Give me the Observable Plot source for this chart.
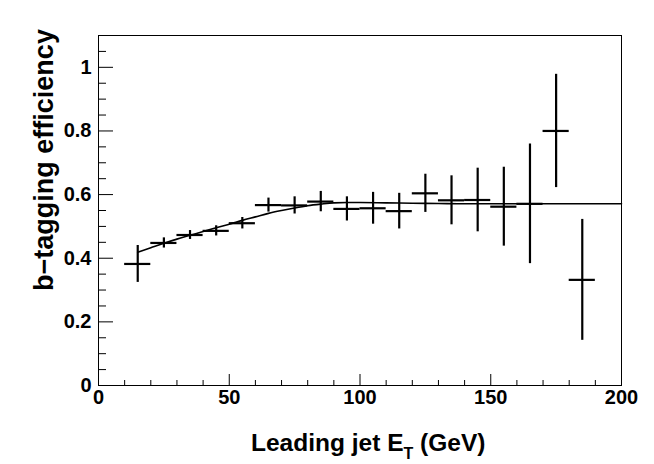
<!DOCTYPE html>
<html>
<head>
<meta charset="utf-8">
<script src="https://cdn.jsdelivr.net/npm/d3@7"></script>
<script src="https://cdn.jsdelivr.net/npm/@observablehq/plot@0.6"></script>
<style>
  html, body { margin: 0; padding: 0; background: #fff; }
  #chart { width: 654px; height: 464px; }
</style>
</head>
<body>
<div id="chart"></div>
<script>
// Bin centers (GeV) and half bin width
const binCenter = [15, 25, 35, 45, 55, 65, 75, 85, 95, 105, 115, 125, 135, 145, 155, 165, 175, 185];
const binHalfWidth = [5, 5, 5, 5, 5, 5, 5, 5, 5, 5, 5, 5, 5, 5, 5, 5, 5, 5];
// Measured b-tagging efficiency and its error
const efficiency = [0.382, 0.448, 0.473, 0.486, 0.510, 0.567, 0.566, 0.578, 0.555, 0.557, 0.548, 0.604, 0.582, 0.583, 0.562, 0.571, 0.800, 0.332];
const effError   = [0.058, 0.016, 0.014, 0.016, 0.018, 0.022, 0.027, 0.032, 0.038, 0.050, 0.056, 0.060, 0.077, 0.100, 0.124, 0.188, 0.178, 0.190];
// Fit curve
const fitX = [15, 20, 25, 30, 35, 40, 45, 50, 55, 60, 65, 70, 75, 80, 85, 90, 95, 100, 110, 120, 130, 140, 150, 200];
const fitY = [0.419, 0.433, 0.447, 0.460, 0.472, 0.484, 0.496, 0.507, 0.519, 0.530, 0.541, 0.550, 0.558, 0.565, 0.570, 0.574, 0.575, 0.575, 0.574, 0.573, 0.572, 0.571, 0.571, 0.571];
// Axis ticks
const xMajor = [0, 50, 100, 150, 200];
const xMinor = [10, 20, 30, 40, 60, 70, 80, 90, 110, 120, 130, 140, 160, 170, 180, 190];
const yMajor = [0, 0.2, 0.4, 0.6, 0.8, 1];
const yMinor = [0.05, 0.1, 0.15, 0.25, 0.3, 0.35, 0.45, 0.5, 0.55, 0.65, 0.7, 0.75, 0.85, 0.9, 0.95, 1.05];
const xTitle = ["Leading jet E", "T", " (GeV)"];
const yTitle = "b\u2212tagging efficiency";

const points = binCenter.map((c, i) => ({
  x: c, lo: c - binHalfWidth[i], hi: c + binHalfWidth[i],
  y: efficiency[i], y1: efficiency[i] - effError[i], y2: efficiency[i] + effError[i]
}));
const fit = fitX.map((x, i) => ({x, y: fitY[i]}));

const fmt = d => String(+d.toFixed(2));
const font = "'Liberation Sans', Arial, Helvetica, sans-serif";

const plot = Plot.plot({
  width: 654,
  height: 464,
  marginLeft: 98,
  marginRight: 33,
  marginTop: 35,
  marginBottom: 79,
  style: {fontFamily: font, fontWeight: "bold", fontSize: "20px", background: "#fff", color: "#000"},
  x: {domain: [0, 200]},
  y: {domain: [0, 1.1]},
  marks: [
    Plot.axisX({ticks: xMajor, tickSize: 0, tickPadding: 4, tickFormat: fmt, label: null, fontSize: 20}),
    Plot.axisX({ticks: xMajor, tickSize: -11, tickFormat: () => "", label: null}),
    Plot.axisX({ticks: xMinor, tickSize: -5, tickFormat: () => "", label: null}),
    Plot.axisY({ticks: yMajor, tickSize: 0, tickPadding: 7, tickFormat: fmt, label: null, fontSize: 20}),
    Plot.axisY({ticks: yMajor, tickSize: -15, tickFormat: () => "", label: null}),
    Plot.axisY({ticks: yMinor, tickSize: -8, tickFormat: () => "", label: null}),
    Plot.line(fit, {x: "x", y: "y", curve: "monotone-x", stroke: "#000", strokeWidth: 1.6}),
    Plot.ruleY(points, {y: "y", x1: "lo", x2: "hi", stroke: "#000", strokeWidth: 2.2}),
    Plot.ruleX(points, {x: "x", y1: "y1", y2: "y2", stroke: "#000", strokeWidth: 2.2}),
    Plot.frame({stroke: "#000", strokeWidth: 1})
  ]
});

const svg = d3.select(plot);
// X-axis title with subscript
const xt = svg.append("text")
  .attr("x", 251).attr("y", 451)
  .attr("text-anchor", "start")
  .style("font-family", font).style("font-weight", "bold").style("font-size", "24.5px")
  .attr("fill", "#000");
xt.append("tspan").text(xTitle[0]);
xt.append("tspan").attr("dy", 8).style("font-size", "16px").text(xTitle[1]);
xt.append("tspan").attr("dy", -8).text(xTitle[2]);
// Y-axis title
svg.append("text")
  .attr("transform", "translate(53,160) rotate(-90)")
  .attr("text-anchor", "middle")
  .style("font-family", font).style("font-weight", "bold").style("font-size", "27px")
  .attr("fill", "#000")
  .text(yTitle);

document.getElementById("chart").appendChild(plot);
</script>
</body>
</html>
